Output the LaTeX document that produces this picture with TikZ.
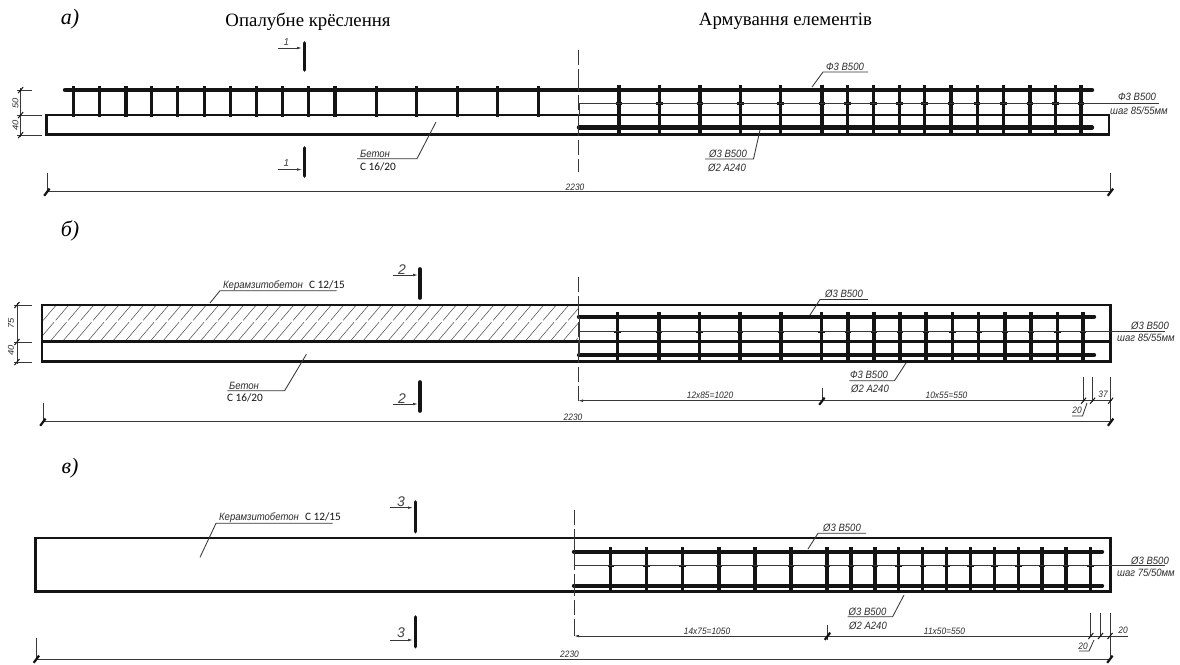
\documentclass[tikz,border=0pt]{standalone}
\usepackage{fontspec}
\setmainfont{Liberation Serif}
\newfontfamily\dwgfont{Liberation Sans}
\newfontfamily\calfont{Carlito}
\usetikzlibrary{arrows.meta}
\definecolor{ink}{HTML}{141414}
\tikzset{
 outline/.style={draw=ink,line width=2.8pt,line join=miter},
 rebar/.style={draw=ink,line width=4.4pt,line cap=round},
 stirrup/.style={draw=ink,line width=3.4pt},
 nub/.style={draw=ink,line width=2.2pt},
 thinline/.style={draw=ink!85,line width=.85pt},
 dimline/.style={draw=ink!85,line width=.8pt},
 axisline/.style={draw=ink!85,line width=.8pt,dash pattern=on 15pt off 4pt on 22pt off 4pt},
 secbar/.style={draw=ink,line width=3.6pt,line cap=round},
 secarrow/.style={draw=ink!85,line width=.7pt,-{Latex[length=5pt,width=2.6pt]}},
 slashtick/.style={draw=ink,line width=2.2pt},
 smalltick/.style={draw=ink,line width=1pt},
 hatchline/.style={draw=ink!75,line width=.55pt,dash pattern=on 30pt off 2.5pt},
 heading/.style={font=\fontsize{18.8}{20}\selectfont,inner sep=0pt},
 panelmark/.style={font=\itshape\fontsize{22}{24}\selectfont,inner sep=0pt},
 dwg/.style={font=\dwgfont\itshape\fontsize{10.6}{12}\selectfont,inner sep=0pt,text=ink!90,xscale=.9},
 dwgsmall/.style={font=\dwgfont\itshape\fontsize{9.3}{10}\selectfont,inner sep=0pt,text=ink!90,xscale=.9},
 stepnote/.style={font=\dwgfont\itshape\fontsize{10.6}{12}\selectfont,inner sep=0pt,text=ink!90,xscale=.9},
 plainlab/.style={font=\calfont\fontsize{11.3}{12}\selectfont,inner sep=0pt,text=ink},
 secnum/.style={font=\dwgfont\itshape\fontsize{14}{15}\selectfont,inner sep=0pt,text=ink!80},
}
\newcommand{\slashat}[2]{\draw[slashtick] (#1-2.8,#2+3.8) -- (#1+2.6,#2-3.4);}
\newcommand{\smallslash}[2]{\draw[smalltick] (#1-2.5,#2+3) -- (#1+2.5,#2-3);}
\begin{document}
\begin{tikzpicture}[x=1pt,y=-1pt]
\useasboundingbox[fill=white] (0,0) rectangle (1180,664);

% ================ panel a
\node[panelmark] (markA) at (70,19) {а)};
\node[heading] (titleL) at (308,22) {Опалубне крёслення};
\node[heading] (titleR) at (785.5,21) {Армування елементів};
\draw[outline] (578,115) -- (46.5,115) -- (46.5,134.5) -- (1109,134.5) -- (1109,115) -- (578,115);
\foreach \x in {73.7,99.6,126,151.5,177.4,204.5,230.5,256.4,282.7,308.6,335,376.3,416.2,457.5,497.7,538.3}
  \draw[stirrup] (\x,86) -- (\x,117);
\foreach \x in {619,659.5,699.8,740.4,780.6,822,847.5,873.5,899.4,924.6,951,977.2,1003.5,1030,1055.4,1081}{
  \draw[stirrup] (\x,85) -- (\x,135);
  \draw[nub] (\x-3.2,103.5) -- (\x+3.2,103.5);}
\draw[rebar] (65,90) -- (1092,90);
\draw[rebar] (579,127.5) -- (1092,127.5);
\draw[thinline] (579,103.5) -- (1159,103.5);
\draw[thinline] (579,103.5) -- (579,115);
\draw[axisline] (578,50) -- (578,172);
% leaders
\draw[thinline] (812,87) -- (823,72) -- (868,72);
\node[dwg] (aTop) at (845,66.5) {Ф3 В500};
\node[dwg] (aRight1) at (1137,97) {Ф3 В500};
\node[stepnote] (aRight2) at (1139,110.5) {шаг 85/55мм};
\draw[thinline] (760,130) -- (753.5,159) -- (705,159);
\node[dwg] (aLow1) at (728,153.5) {Ø3 В500};
\node[dwg] (aLow2) at (727,168) {Ø2 А240};
\draw[thinline] (436,122) -- (417,158.7) -- (357,158.7);
\node[dwg] (aConc) at (375,153.5) {Бетон};
\node[plainlab] (aConc2) at (378,167) {С 16/20};
% section marks
\node[secnum,font=\dwgfont\itshape\fontsize{10}{11}\selectfont] (s1u) at (286.5,42.5) {1};
\draw[secarrow] (278,48) -- (302,48);
\draw[secbar] (304.5,43) -- (304.5,70);
\node[secnum,font=\dwgfont\itshape\fontsize{10}{11}\selectfont] (s1d) at (286.5,163) {1};
\draw[secarrow] (278,169.5) -- (302,169.5);
\draw[secbar] (304.5,148) -- (304.5,176);
% overall dimension
\draw[dimline] (47,191.5) -- (1110.5,191.5);
\draw[dimline] (47,173) -- (47,192);
\draw[dimline] (1110.5,173) -- (1110.5,192);
\slashat{47}{192}
\slashat{1110.5}{192}
\node[dwgsmall] (aLen) at (575,187) {2230};
% left dims
\draw[dimline] (20.7,88) -- (20.7,137);
\draw[dimline] (17,90) -- (32,90);
\draw[dimline] (17,115) -- (42,115);
\draw[dimline] (17,135) -- (42,135);
\smallslash{20.7}{90}\smallslash{20.7}{115}\smallslash{20.7}{135}
\node[dwgsmall,rotate=90] (aH1) at (15.5,103) {50};
\node[dwgsmall,rotate=90] (aH2) at (15.5,125) {40};

% ================ panel b
\node[panelmark] (markB) at (70,231) {б)};
\begin{scope}
\clip (42,305) rectangle (578,342);
\foreach \x in {0,12.5,...,590}
  \draw[hatchline] (\x-3,345) -- ++(36,-42);
\end{scope}
\draw[outline] (42,305) rectangle (1110.7,361.7);
\draw[outline] (42,341.7) -- (1110.7,341.7);
\foreach \x in {617.4,658.8,699.4,740,781,821.6,847.9,873.8,900,926,952.4,978.7,1005,1031,1057.3,1083}{
  \draw[stirrup] (\x,312) -- (\x,362);
  \draw[nub] (\x-3.2,331.7) -- (\x+3.2,331.7);}
\draw[rebar] (579,316.7) -- (1094,316.7);
\draw[rebar] (579,355) -- (1094,355);
\draw[thinline] (579,331.7) -- (1165,331.7);
\draw[thinline] (579,316.7) -- (579,355);
\draw[axisline] (578,277) -- (578,391);
\draw[thinline] (810,315) -- (820,299.5) -- (868,299.5);
\node[dwg] (bTop) at (844,294) {Ø3 В500};
\node[dwg] (bRight1) at (1150,325.5) {Ø3 В500};
\node[stepnote] (bRight2) at (1146,338) {шаг 85/55мм};
\draw[thinline] (906,363) -- (894.5,380.7) -- (849.4,380.7);
\node[dwg] (bLow1) at (869,375) {Ф3 В500};
\node[dwg] (bLow2) at (870,389) {Ø2 А240};
\draw[thinline] (210,303) -- (220,290.7) -- (336.5,290.7);
\node[dwg] (bLight) at (263,285.7) {Керамзитобетон};
\node[plainlab] (bLight2) at (327,285) {С 12/15};
\draw[thinline] (306.4,354.3) -- (284.6,390.7) -- (227.4,390.7);
\node[dwg] (bConc) at (244,385.5) {Бетон};
\node[plainlab] (bConc2) at (245,397.5) {С 16/20};
\node[secnum] (s2u) at (402,270) {2};
\draw[secarrow] (393,275) -- (418,275);
\draw[secbar] (420,269) -- (420,298);
\node[secnum] (s2d) at (402,399) {2};
\draw[secarrow] (393,404) -- (418,404);
\draw[secbar] (420,382) -- (420,411);
% chain dim
\draw[dimline,{Latex[length=5pt,width=2.6pt]}-] (578,400.7) -- (1112,400.7);
\draw[dimline] (578,391) -- (578,400.7);
\draw[dimline] (822,388) -- (822,401);
\slashat{822}{401}
\node[dwgsmall] (bSeg1) at (710,395) {12х85=1020};
\node[dwgsmall] (bSeg2) at (946.5,395) {10х55=550};
\draw[dimline] (1083.6,377) -- (1083.6,402);
\draw[dimline] (1092.6,377) -- (1092.6,402);
\draw[dimline] (1110.7,377) -- (1110.7,422);
\smallslash{1083.6}{400.7}\smallslash{1092.6}{400.7}\smallslash{1110.7}{400.7}
\node[dwgsmall] (bEnd1) at (1103,394) {37};
\draw[thinline] (1087,403) -- (1082.5,416) -- (1072,416);
\node[dwgsmall] (bEnd2) at (1077,410) {20};
% overall
\draw[dimline] (43,421.7) -- (1110.7,421.7);
\draw[dimline] (43,403) -- (43,422);
\slashat{43}{422}
\slashat{1110.7}{422}
\node[dwgsmall] (bLen) at (573,417) {2230};
\draw[dimline] (17,303) -- (17,364);
\draw[dimline] (14,305) -- (32,305);
\draw[dimline] (14,342) -- (32,342);
\draw[dimline] (14,362) -- (32,362);
\smallslash{17}{305}\smallslash{17}{342}\smallslash{17}{362}
\node[dwgsmall,rotate=90] (bH1) at (11,323) {75};
\node[dwgsmall,rotate=90] (bH2) at (11,350) {40};

% ================ panel c
\node[panelmark] (markC) at (70,468) {в)};
\draw[outline] (35.7,538) rectangle (1110.7,591.7);
\foreach \x in {610.7,646.4,682.5,719,755,791,827,851,875,898.6,922.7,946.4,970.5,994.5,1018.6,1042,1066,1090.4}{
  \draw[stirrup] (\x,547) -- (\x,592);
  \draw[nub] (\x-3.2,565.7) -- (\x+3.2,565.7);}
\draw[rebar] (574,551.7) -- (1102,551.7);
\draw[rebar] (574,585.7) -- (1102,585.7);
\draw[thinline] (574,565.7) -- (1165,565.7);
\draw[thinline] (574,551.7) -- (574,565.7);
\draw[axisline] (574,510) -- (574,636);
\draw[thinline] (808,549) -- (818,533.3) -- (866,533.3);
\node[dwg] (cTop) at (842,527.7) {Ø3 В500};
\node[dwg] (cRight1) at (1150,560.5) {Ø3 В500};
\node[stepnote] (cRight2) at (1146,572.5) {шаг 75/50мм};
\draw[thinline] (904,595) -- (892.6,616.7) -- (847.5,616.7);
\node[dwg] (cLow1) at (867.5,611.5) {Ø3 В500};
\node[dwg] (cLow2) at (868,625.5) {Ø2 А240};
\draw[thinline] (200,557.3) -- (216,523.3) -- (332.7,523.3);
\node[dwg] (cLight) at (259,517.7) {Керамзитобетон};
\node[plainlab] (cLight2) at (323,517) {С 12/15};
\node[secnum] (s3u) at (401,501.5) {3};
\draw[secarrow] (390,507.7) -- (413,507.7);
\draw[secbar] (415.4,502) -- (415.4,531.7);
\node[secnum] (s3d) at (401,632.5) {3};
\draw[secarrow] (390,640) -- (413,640);
\draw[secbar] (415.4,617) -- (415.4,646.7);
% chain
\draw[dimline,{Latex[length=5pt,width=2.6pt]}-] (574,636) -- (1127.6,636);
\draw[dimline] (827.6,625) -- (827.6,640);
\slashat{827.6}{636}
\node[dwgsmall] (cSeg1) at (707,631) {14х75=1050};
\node[dwgsmall] (cSeg2) at (944.5,631) {11х50=550};
\draw[dimline] (1090.8,613) -- (1090.8,637);
\draw[dimline] (1100.5,613) -- (1100.5,637);
\draw[dimline] (1110,613) -- (1110,659);
\smallslash{1090.8}{636}\smallslash{1100.5}{636}\smallslash{1110}{636}
\node[dwgsmall] (cEnd1) at (1123,630.5) {20};
\draw[thinline] (1094,640) -- (1089,651) -- (1079,651);
\node[dwgsmall] (cEnd2) at (1083,646.5) {20};
% overall
\draw[dimline] (36.5,659) -- (1110,659);
\draw[dimline] (36.5,638) -- (36.5,659);
\slashat{36.5}{659}
\slashat{1110}{659}
\node[dwgsmall] (cLen) at (569.5,654) {2230};
\end{tikzpicture}
\end{document}
